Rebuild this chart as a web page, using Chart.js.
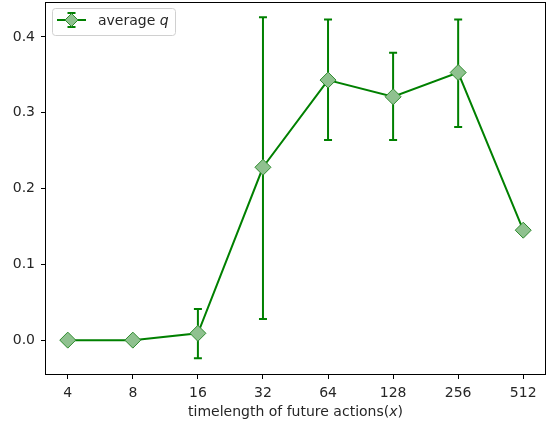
<!DOCTYPE html>
<html>
<head>
<meta charset="utf-8">
<script src="https://cdn.jsdelivr.net/npm/chart.js@4.4.1/dist/chart.umd.min.js"></script>
<style>
  html, body { margin: 0; padding: 0; background: #fff; }
  #wrap { width: 553px; height: 425px; }
</style>
</head>
<body>
<div id="wrap"><canvas id="chart"></canvas></div>
<script>
// ---------- data ----------
var xLabels = ['4', '8', '16', '32', '64', '128', '256', '512'];
var avgQ    = [0.0, 0.0, 0.009, 0.228, 0.343, 0.321, 0.353, 0.145];
var errLow  = [null, null, -0.024, 0.028, 0.264, 0.264, 0.281, null];
var errHigh = [null, null, 0.041, 0.426, 0.423, 0.379, 0.423, null];
var yTicks  = [0.0, 0.1, 0.2, 0.3, 0.4];

var green = '#008000';
var fnt = 'DejaVu Sans';
var fs = 14;

var points = avgQ.map(function (v, i) { return { x: i, y: v }; });

// error bars drawn from the scales
var errorBars = {
    id: 'errorBars',
    beforeDatasetsDraw: function (chart) {
        var c = chart.ctx, xs = chart.scales.x, ys = chart.scales.y;
        c.save();
        c.strokeStyle = green;
        c.lineWidth = 2;
        for (var i = 0; i < xLabels.length; i++) {
            if (errLow[i] == null) continue;
            var px = xs.getPixelForValue(i);
            var lo = ys.getPixelForValue(errLow[i]);
            var hi = ys.getPixelForValue(errHigh[i]);
            c.beginPath();
            c.moveTo(px, lo); c.lineTo(px, hi);
            c.moveTo(px - 4, lo); c.lineTo(px + 4, lo);
            c.moveTo(px - 4, hi); c.lineTo(px + 4, hi);
            c.stroke();
        }
        c.restore();
    }
};

// frame, legend and x title
var extras = {
    id: 'extras',
    afterDraw: function (chart) {
        var c = chart.ctx, a = chart.chartArea;
        c.save();
        c.strokeStyle = '#000';
        c.lineWidth = 1;
        c.strokeRect(Math.round(a.left) + 0.5, Math.round(a.top) + 0.5,
                     Math.round(a.right - a.left) - 1, Math.round(a.bottom - a.top) - 1);

        // legend box
        var lx = a.left + 7, ly = a.top + 6;
        c.fillStyle = 'rgba(255,255,255,0.8)';
        c.strokeStyle = '#d0d0d0';
        c.beginPath();
        c.roundRect(lx + 0.5, ly + 0.5, 123, 27, 3);
        c.fill(); c.stroke();
        var my = ly + 12;
        c.strokeStyle = green;
        c.lineWidth = 2;
        c.beginPath();
        c.moveTo(lx + 5, my); c.lineTo(lx + 34, my);
        c.moveTo(lx + 19.5, my - 7); c.lineTo(lx + 19.5, my + 7);
        c.moveTo(lx + 15.5, my - 7); c.lineTo(lx + 23.5, my - 7);
        c.moveTo(lx + 15.5, my + 7); c.lineTo(lx + 23.5, my + 7);
        c.stroke();
        c.strokeStyle = '#2e8b2e';
        c.lineWidth = 1;
        c.beginPath();
        c.moveTo(lx + 19.5, my - 6.5); c.lineTo(lx + 26, my);
        c.lineTo(lx + 19.5, my + 6.5); c.lineTo(lx + 13, my);
        c.closePath();
        c.fillStyle = '#8fc18f';
        c.fill(); c.stroke();
        c.fillStyle = '#262626';
        c.textBaseline = 'middle';
        c.textAlign = 'left';
        c.font = fs + 'px "' + fnt + '"';
        c.fillText('average ', lx + 46, my + 1);
        var w = c.measureText('average ').width;
        c.font = 'italic ' + fs + 'px "' + fnt + '"';
        c.fillText('q', lx + 46 + w, my + 1);

        // x title with italic x
        var t1 = 'timelength of future actions(', t2 = 'x', t3 = ')';
        c.font = fs + 'px "' + fnt + '"';
        var w1 = c.measureText(t1).width, w3 = c.measureText(t3).width;
        c.font = 'italic ' + fs + 'px "' + fnt + '"';
        var w2 = c.measureText(t2).width;
        var x0 = (a.left + a.right) / 2 - (w1 + w2 + w3) / 2, ty = 416;
        c.textBaseline = 'alphabetic';
        c.font = fs + 'px "' + fnt + '"';
        c.fillText(t1, x0, ty);
        c.font = 'italic ' + fs + 'px "' + fnt + '"';
        c.fillText(t2, x0 + w1, ty);
        c.font = fs + 'px "' + fnt + '"';
        c.fillText(t3, x0 + w1 + w2, ty);
        c.restore();
    }
};

new Chart(document.getElementById('chart'), {
    type: 'line',
    data: {
        datasets: [{
            label: 'average q',
            data: points,
            borderColor: green,
            borderWidth: 2,
            pointStyle: 'rectRot',
            pointRadius: 8,
            pointBorderWidth: 1,
            pointBackgroundColor: '#8fc18f',
            pointBorderColor: '#2e8b2e',
            tension: 0,
            clip: false
        }]
    },
    options: {
        responsive: true,
        maintainAspectRatio: false,
        animation: false,
        events: [],
        layout: { autoPadding: false, padding: { top: 2, right: 7, left: 0, bottom: 0 } },
        plugins: { legend: { display: false }, tooltip: { enabled: false } },
        scales: {
            x: {
                type: 'linear',
                min: -0.35,
                max: 7.35,
                afterBuildTicks: function (s) {
                    s.ticks = xLabels.map(function (_, i) { return { value: i }; });
                },
                afterFit: function (s) { s.height = 50; s.paddingLeft = 0; s.paddingRight = 0; },
                grid: { drawOnChartArea: false, drawTicks: true, tickLength: 4, color: '#000' },
                border: { display: false },
                ticks: {
                    autoSkip: false,
                    maxRotation: 0,
                    padding: 6,
                    color: '#262626',
                    font: { family: fnt, size: fs },
                    callback: function (v) { return xLabels[v]; }
                }
            },
            y: {
                min: -0.046,
                max: 0.446,
                afterBuildTicks: function (s) {
                    s.ticks = yTicks.map(function (v) { return { value: v }; });
                },
                afterFit: function (s) { s.width = 45; s.paddingTop = 0; s.paddingBottom = 0; },
                grid: { drawOnChartArea: false, drawTicks: true, tickLength: 4, color: '#000' },
                border: { display: false },
                ticks: {
                    padding: 6,
                    color: '#262626',
                    font: { family: fnt, size: fs },
                    callback: function (v) { return v.toFixed(1); }
                }
            }
        }
    },
    plugins: [errorBars, extras]
});
</script>
</body>
</html>
